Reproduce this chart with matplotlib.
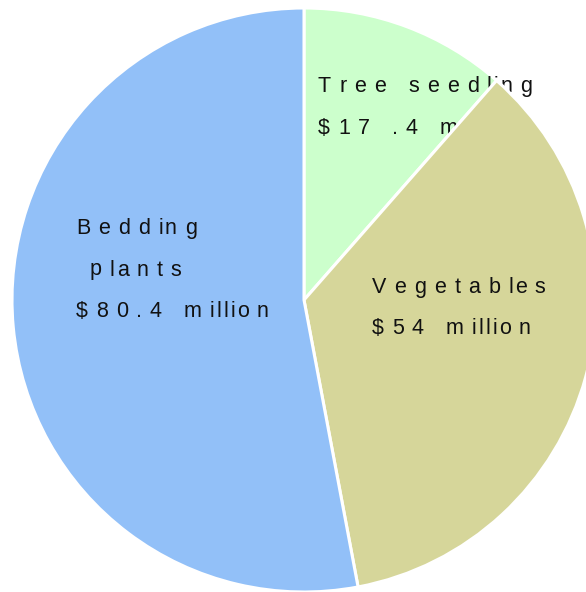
import matplotlib
matplotlib.use("Agg")
import matplotlib.pyplot as plt
from matplotlib.font_manager import FontProperties
from matplotlib.textpath import TextToPath

# Nursery crop sales (millions of dollars)
categories = ["Tree seedling", "Vegetables", "Bedding plants"]
values = [17.4, 54, 80.4]
label_lines = [
    ["Tree seedling", "$17 .4 million"],
    ["Vegetables", "$54 million"],
    ["Bedding", " plants", "$80.4 million"],
]
colors = ["#CCFFCC", "#D6D69A", "#92C0F8"]

W, H = 586, 592
fig = plt.figure(figsize=(W / 100, H / 100), dpi=100)
ax = fig.add_axes([0, 0, 1, 1])

cx, cy, r = 304, H - 300, 292
wedges, _ = ax.pie(values, colors=colors, startangle=90, counterclock=False,
                   center=(cx, cy), radius=r,
                   wedgeprops=dict(edgecolor="white", linewidth=2.2))
ax.set_xlim(0, W)
ax.set_ylim(0, H)
ax.set_aspect("equal")
ax.axis("off")

prop = FontProperties(family="Liberation Sans", size=15.5)
ttp = TextToPath()
PT2PX = 100 / 72


def advance(ch):
    w1 = ttp.get_text_width_height_descent("|" + ch + "|", prop, ismath=False)[0]
    w0 = ttp.get_text_width_height_descent("||", prop, ismath=False)[0]
    return (w1 - w0) * PT2PX


def spaced_text(x, y_top, s, gap, narrow_gap, z):
    """Draw s one glyph at a time with extra tracking; y_top is baseline in image rows."""
    xpos = x
    for ch in s:
        if ch != " ":
            ax.text(xpos, H - y_top, ch, fontproperties=prop, color="#111111",
                    ha="left", va="baseline", zorder=z)
        xpos += advance(ch) + (narrow_gap if ch in "il" else gap)


# label anchors: left x and first baseline (image rows), line pitch
anchors = [(318, 92), (372, 293), (76, 234)]
pitch = 41.5
gap, narrow_gap = 8.0, 2.0

for i, (w, lines, (lx, ly)) in enumerate(zip(wedges, label_lines, anchors)):
    w.set_zorder(2 * i + 1)
    for j, line in enumerate(lines):
        spaced_text(lx, ly + j * pitch, line, gap, narrow_gap, 2 * i + 1.5)

fig.savefig("out.png", dpi=100)
